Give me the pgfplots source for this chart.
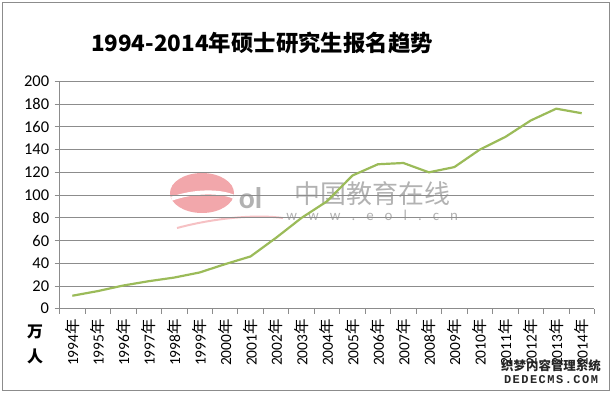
\documentclass[border=0pt]{standalone}
\usepackage{pgfplots}
\pgfplotsset{compat=1.18}
\usepackage{fontspec}
\setmainfont{Carlito}
\newfontfamily\cjk{Noto Sans CJK SC}
\newfontfamily\mono{Liberation Mono}
\definecolor{linegreen}{HTML}{9BBB59}
\definecolor{gridgray}{HTML}{8C8C8C}
\definecolor{logopink}{HTML}{F2A7AB}
\begin{document}
\begin{tikzpicture}
\useasboundingbox (-59.6bp,-84.3bp) rectangle (552.4bp,308.7bp);
\draw[gridgray, line width=1bp] (-56.6bp,-81.3bp) rectangle (549.4bp,305.7bp);
% watermark (behind the chart)
\fill[logopink] (142.4bp,115.7bp) ellipse [x radius=32bp, y radius=20bp];
\draw[white, line width=4bp] (112bp,110bp) .. controls (135bp,118bp) and (160bp,118bp) .. (174bp,112bp);
\node[text=gray!60, font=\bfseries\fontsize{30}{30}\selectfont] at (191bp,111bp) {ol};
\draw[logopink!70, line width=2bp] (117.4bp,80.7bp) .. controls (160bp,92bp) and (200bp,94bp) .. (223.4bp,90.7bp);
\node[text=gray!60, font=\cjk\fontsize{26}{26}\selectfont] at (312.6bp,115.2bp) {中国教育在线};
\node[text=gray!60, font=\fontsize{15}{15}\selectfont] at (312.6bp,93.2bp) {w\hspace{11bp}w\hspace{11bp}w\hspace{11bp}.\hspace{11bp}e\hspace{11bp}o\hspace{11bp}l\hspace{11bp}.\hspace{11bp}c\hspace{11bp}n};
\begin{axis}[
  at={(0,0)}, anchor=south west,
  scale only axis, width=534.8bp, height=227.3bp,
  xmin=-0.5, xmax=20.5, ymin=0, ymax=200,
  ytick={0,20,...,200},
  xtick={0,...,20},
  xticklabels={1994{\cjk 年},1995{\cjk 年},1996{\cjk 年},1997{\cjk 年},1998{\cjk 年},1999{\cjk 年},2000{\cjk 年},2001{\cjk 年},2002{\cjk 年},2003{\cjk 年},2004{\cjk 年},2005{\cjk 年},2006{\cjk 年},2007{\cjk 年},2008{\cjk 年},2009{\cjk 年},2010{\cjk 年},2011{\cjk 年},2012{\cjk 年},2013{\cjk 年},2014{\cjk 年}},
  minor xtick={-0.5,0.5,...,20.5},
  major x tick style={draw=none},
  minor x tick style={gridgray, line width=0.75bp},
  major y tick style={gridgray, line width=0.75bp},
  tick align=outside,
  major tick length=5bp, minor tick length=5bp,
  axis x line*=bottom, axis y line*=left,
  axis line style={gridgray, line width=0.75bp, -},
  ymajorgrids,
  major grid style={gridgray, line width=0.75bp},
  /pgf/number format/assume math mode=true,
  xticklabel style={rotate=90, anchor=east, font=\fontsize{15.5}{16}\selectfont, xshift=-2bp},
  yticklabel style={font=\fontsize{16.5}{17}\selectfont, xshift=-2bp},
  clip=false,
]
\addplot[linegreen, line width=2.2bp] coordinates {
(0,11.4) (1,15.5) (2,20.4) (3,24.2) (4,27.4) (5,31.9) (6,39.2) (7,46.0)
(8,62.4) (9,79.9) (10,94.5) (11,117.2) (12,127.1) (13,128.2) (14,120.0)
(15,124.6) (16,140.0) (17,151.1) (18,165.6) (19,176.0) (20,172.0)};
\end{axis}
\node[font=\cjk\bfseries\fontsize{22.5}{23}\selectfont] at (202.4bp,265.7bp) {1994-2014年硕士研究生报名趋势};
\node[font=\cjk\bfseries\fontsize{16}{16}\selectfont] at (-24.6bp,-22.8bp) {万};
\node[font=\cjk\bfseries\fontsize{16}{16}\selectfont] at (-24.6bp,-47.3bp) {人};
\node[font=\cjk\bfseries\fontsize{12.5}{13}\selectfont, text=black!85] at (491.4bp,-57.3bp) {织梦内容管理系统};
\node[font=\mono\bfseries\fontsize{12}{12}\selectfont, text=black!85] at (491.4bp,-70.8bp) {D\hspace{1.5bp}E\hspace{1.5bp}D\hspace{1.5bp}E\hspace{1.5bp}C\hspace{1.5bp}M\hspace{1.5bp}S\hspace{1.5bp}.\hspace{1.5bp}C\hspace{1.5bp}O\hspace{1.5bp}M};
\end{tikzpicture}
\end{document}
